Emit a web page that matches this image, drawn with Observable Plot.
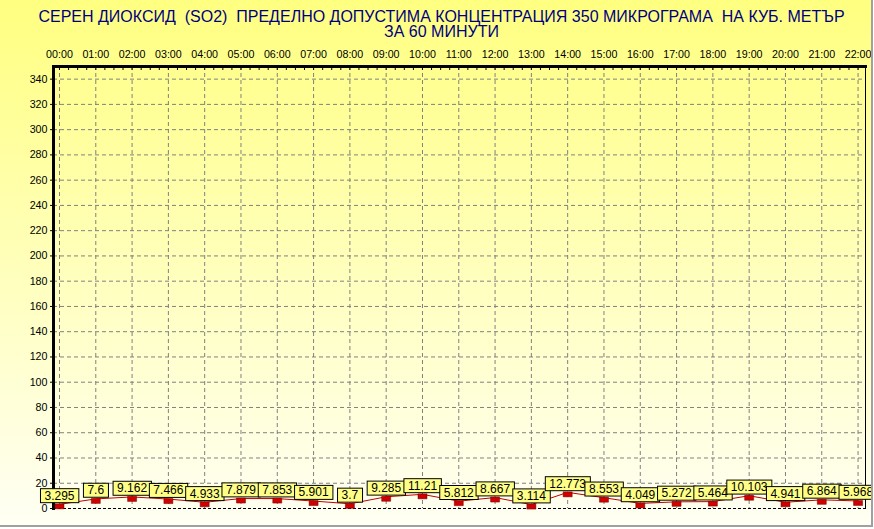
<!DOCTYPE html>
<html>
<head>
<meta charset="utf-8">
<script src="https://cdn.jsdelivr.net/npm/d3@7"></script>
<script src="https://cdn.jsdelivr.net/npm/@observablehq/plot@0.6"></script>
<style>
  html, body { margin: 0; padding: 0; background: #fff; }
  #chart {
    position: relative;
    width: 871px;
    height: 525px;
    overflow: hidden;
    background: linear-gradient(#ffff80, #fffff4);
    border-right: 2px solid #a0a0a0;
    border-bottom: 2px solid #a0a0a0;
  }
  #chart .titulo {
    height: 40px;
    box-sizing: border-box;
    padding: 9px 0 0 12px;
    text-align: center;
    font: 16px/15px "Liberation Sans", Arial, sans-serif;
    color: #000080;
    white-space: pre;
  }
  #chart svg { display: block; }
</style>
</head>
<body>
<div id="chart">
  <div class="titulo">СЕРЕН ДИОКСИД  (SO2)  ПРЕДЕЛНО ДОПУСТИМА КОНЦЕНТРАЦИЯ 350 МИКРОГРАМА  НА КУБ. МЕТЪР
ЗА 60 МИНУТИ</div>
</div>
<script>
// SO2, средночасови стойности (µg/m3)
const hours = ["00:00", "01:00", "02:00", "03:00", "04:00", "05:00", "06:00", "07:00",
  "08:00", "09:00", "10:00", "11:00", "12:00", "13:00", "14:00", "15:00", "16:00",
  "17:00", "18:00", "19:00", "20:00", "21:00", "22:00"];
const so2 = [3.295, 7.6, 9.162, 7.466, 4.933, 7.879, 7.853, 5.901, 3.7, 9.285, 11.21,
  5.812, 8.667, 3.114, 12.773, 8.553, 4.049, 5.272, 5.464, 10.103, 4.941, 6.864, 5.968];
const yTicks = [0, 20, 40, 60, 80, 100, 120, 140, 160, 180, 200, 220, 240, 260, 280,
  300, 320, 340];

const datos = hours.map((h, i) => ({ i, hora: h, valor: so2[i] }));
const idx = hours.map((_, i) => i);
const cuartos = d3.range(0, hours.length - 0.99, 0.25);

// marcador rectangular, un poco por debajo del punto
const marcador = {
  draw(ctx) { ctx.rect(-4.5, -0.5, 9, 5); }
};

const rejilla = { stroke: "#808080", strokeOpacity: 1, strokeDasharray: "4,3" };

const svg = Plot.plot({
  width: 871,
  height: 489,
  marginLeft: 53,
  marginRight: 6,
  marginTop: 26,
  marginBottom: 21,
  style: {
    background: "transparent",
    color: "#000",
    fontFamily: "'Liberation Sans', Arial, sans-serif",
    fontSize: "10.7px",
    overflow: "visible",
  },
  x: { domain: [-0.165, 22.205], axis: null },
  y: { domain: [0, 350], axis: null },
  marks: [
    Plot.gridY(yTicks.filter((v) => v > 0), rejilla),
    Plot.gridX(idx, rejilla),
    Plot.ruleY([0], { stroke: "#000", strokeDasharray: "3,2" }),
    Plot.frame({ anchor: "right", stroke: "#000" }),
    Plot.frame({ anchor: "left", stroke: "#000", strokeWidth: 3 }),
    Plot.frame({ anchor: "top", stroke: "#000", strokeWidth: 3 }),
    Plot.axisX(idx, { anchor: "top", tickSize: 0, tickPadding: 9,
      tickFormat: (i) => hours[i], label: null, fill: "#000" }),
    Plot.axisX(cuartos, { anchor: "top", tickSize: -3, tickFormat: () => "", label: null }),
    Plot.axisY(yTicks, { anchor: "left", tickSize: 3, tickPadding: 3, label: null, fill: "#000" }),
    Plot.line(datos, { x: "i", y: "valor", stroke: "#c00000", strokeWidth: 1 }),
    Plot.dot(datos, { x: "i", y: "valor", symbol: marcador,
      fill: "#d00000", stroke: "#700000", strokeWidth: 0.5 }),
    Plot.text(datos, { x: "i", y: "valor", text: (d) => String(d.valor),
      dy: -8.5, fontSize: 12, fill: "#000" }),
  ],
});

document.getElementById("chart").appendChild(svg);

// cajas amarillas detrás de las etiquetas
svg.querySelectorAll('g[aria-label="text"] text').forEach((t) => {
  const b = t.getBBox();
  const r = document.createElementNS("http://www.w3.org/2000/svg", "rect");
  r.setAttribute("x", b.x - 4);
  r.setAttribute("y", b.y);
  r.setAttribute("width", b.width + 8);
  r.setAttribute("height", b.height);
  r.setAttribute("fill", "#ffff88");
  r.setAttribute("stroke", "#000");
  r.setAttribute("stroke-width", 1);
  if (t.getAttribute("transform")) r.setAttribute("transform", t.getAttribute("transform"));
  t.parentNode.insertBefore(r, t);
});
</script>
</body>
</html>
